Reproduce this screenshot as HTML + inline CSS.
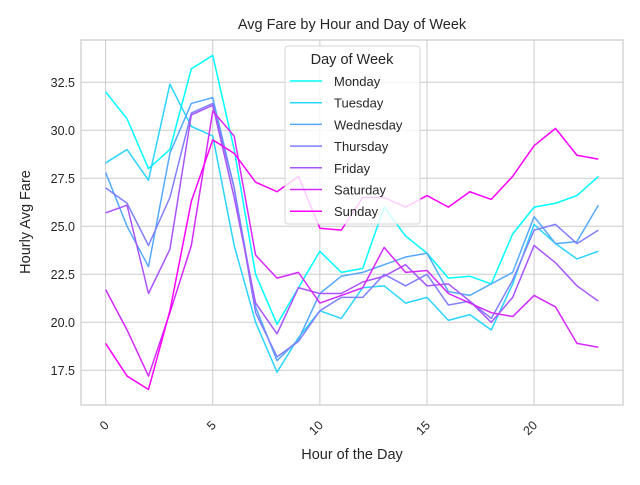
<!DOCTYPE html>
<html><head><meta charset="utf-8"><style>
body{margin:0;background:#fff;font-family:"Liberation Sans",Arial,sans-serif}
svg text{font-family:"Liberation Sans",Arial,sans-serif;fill:#262626}
</style></head><body>
<svg id="chart" width="640" height="480" viewBox="0 0 640 480" xmlns="http://www.w3.org/2000/svg">
<rect width="640" height="480" fill="#fff"/>
<g id="grid"></g><g id="lines"></g><g id="axes"></g><g id="legend"></g>
</svg>
<script>
const hours=[0,1,2,3,4,5,6,7,8,9,10,11,12,13,14,15,16,17,18,19,20,21,22,23];
const days=["Monday","Tuesday","Wednesday","Thursday","Friday","Saturday","Sunday"];
const colors=["#00ffff","#2ad5ff","#55aaff","#807fff","#aa55ff","#d52aff","#ff00ff"];
const monday=[32.0,30.6,28.0,29.0,33.2,33.9,29.0,22.5,19.9,21.8,23.7,22.6,22.8,26.0,24.5,23.6,22.3,22.4,22.0,24.6,26.0,26.2,26.6,27.6];
const tuesday=[28.3,29.0,27.4,32.4,30.2,29.7,24.0,20.0,17.4,19.2,20.6,20.2,21.8,21.9,21.0,21.3,20.1,20.4,19.6,22.0,25.1,24.1,23.3,23.7];
const wednesday=[27.8,25.0,22.9,28.8,31.4,31.7,27.0,20.8,18.0,19.1,21.5,22.4,22.6,23.0,23.4,23.6,21.6,21.4,22.0,22.6,25.5,24.1,24.2,26.1];
const thursday=[27.0,26.2,24.0,26.5,30.9,31.4,27.0,20.5,18.2,19.0,20.6,21.3,21.3,22.5,21.9,22.5,20.9,21.1,20.2,22.2,24.8,25.1,24.1,24.8];
const friday=[25.7,26.1,21.5,23.8,30.8,31.3,26.5,21.0,19.4,21.8,21.5,21.5,22.1,22.4,23.0,21.9,22.0,21.1,20.0,21.3,24.0,23.1,21.9,21.1];
const saturday=[21.7,19.6,17.2,20.5,24.0,31.0,29.7,23.5,22.3,22.6,21.0,21.4,21.8,23.9,22.6,22.7,21.5,21.0,20.5,20.3,21.4,20.8,18.9,18.7];
const sunday=[18.9,17.2,16.5,20.6,26.3,29.5,28.8,27.3,26.8,27.6,24.9,24.8,26.5,26.5,26.0,26.6,26.0,26.8,26.4,27.6,29.2,30.1,28.7,28.5];
const xTicks=[0,5,10,15,20];
const yTicks=[17.5,20.0,22.5,25.0,27.5,30.0,32.5];
const series=[monday,tuesday,wednesday,thursday,friday,saturday,sunday];
const L=81,R=623,T=40,B=405;
const xMin=-1.15,xMax=24.15;
const X=v=>L+(v-xMin)/(xMax-xMin)*(R-L);
const Y=v=>82.3+(32.5-v)*19.2;
const NS="http://www.w3.org/2000/svg";
function mk(t,a,p){const e=document.createElementNS(NS,t);for(const k in a)e.setAttribute(k,a[k]);p.appendChild(e);return e;}
const grid=document.getElementById('grid'),lines=document.getElementById('lines'),axes=document.getElementById('axes'),leg=document.getElementById('legend');
xTicks.forEach(t=>{
 const l=mk('line',{x1:X(t),x2:X(t),y1:T,y2:B,stroke:'#cccccc','stroke-width':1},grid);
 
 
 const tx=mk('text',{x:X(t)+4,y:B+21,'font-size':12.5,'text-anchor':'end',transform:`rotate(-45 ${X(t)+4} ${B+21})`},axes);
 tx.textContent=t;
 
 
});
yTicks.forEach(t=>{
 const l=mk('line',{x1:L,x2:R,y1:Y(t),y2:Y(t),stroke:'#cccccc','stroke-width':1},grid);
 
 
 const tx=mk('text',{x:L-6,y:Y(t)+4.5,'font-size':12.5,'text-anchor':'end'},axes);
 tx.textContent=t.toFixed(1);
 
 
});
const frame=mk('rect',{x:L,y:T,width:R-L,height:B-T,fill:'none',stroke:'#cccccc','stroke-width':1.25},axes);


series.forEach((s,i)=>{
 const p=mk('polyline',{points:s.map((v,j)=>X(hours[j])+','+Y(v)).join(' '),fill:'none',stroke:colors[i],'stroke-width':1.5,'stroke-linejoin':'round'},lines);
 
 
});
const title=mk('text',{x:352,y:29,'font-size':14.5,'text-anchor':'middle'},axes);
title.textContent='Avg Fare by Hour and Day of Week';


const xl=mk('text',{x:352,y:459,'font-size':14.5,'text-anchor':'middle'},axes);
xl.textContent='Hour of the Day';


const yl=mk('text',{x:30,y:222,'font-size':14.5,'text-anchor':'middle',transform:'rotate(-90 30 222)'},axes);
yl.textContent='Hourly Avg Fare';


const box=mk('rect',{x:285,y:46,width:135,height:178,rx:3,fill:'#fff','fill-opacity':0.8,stroke:'#d6d6d6'},leg);


const lt=mk('text',{x:352,y:64,'font-size':14.5,'text-anchor':'middle'},leg);
lt.textContent='Day of Week';


days.forEach((d,i)=>{
 const y=81+i*21.7;
 const g=mk('g',{},leg);
 
 
 mk('line',{x1:290,x2:322,y1:y,y2:y,stroke:colors[i],'stroke-width':1.5},g);
 const t=mk('text',{x:334,y:y+5,'font-size':13},g);
 t.textContent=d;
});
</script>
</body></html>
